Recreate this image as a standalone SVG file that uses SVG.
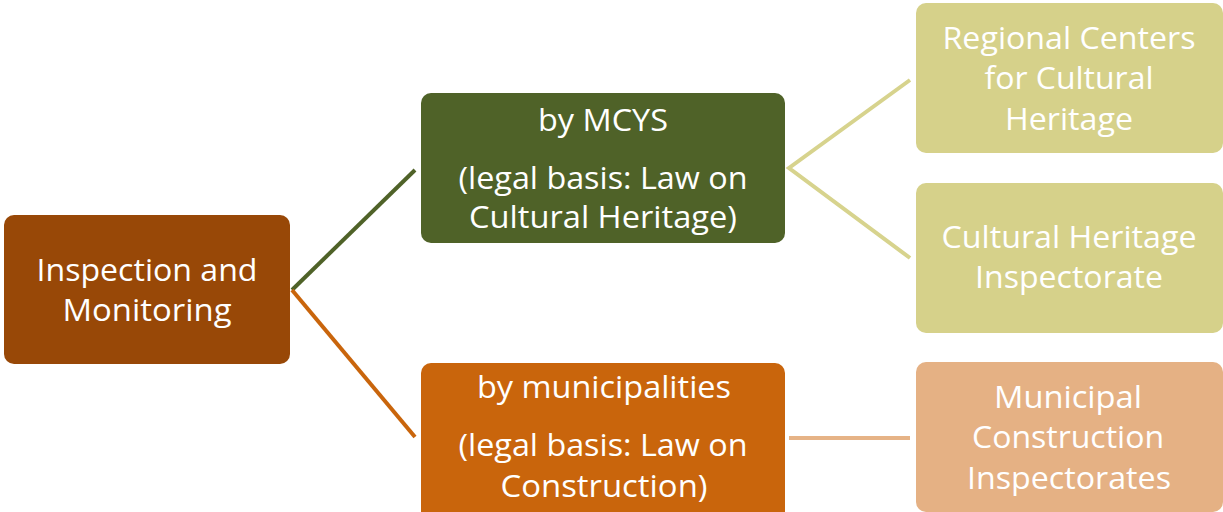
<svg xmlns="http://www.w3.org/2000/svg" width="1223" height="512" viewBox="0 0 1223 512">
<style>
.t{font-family:"Open Sans","Noto Sans","Liberation Sans",sans-serif;font-size:31px;fill:#ffffff;text-anchor:middle}
.c{fill:none;stroke-width:4}
</style>
<rect width="1223" height="512" fill="#ffffff"/>
<g id="connectors">
<line class="c" x1="292" y1="290" x2="415" y2="170" stroke="#4F6228"/>
<line class="c" x1="292" y1="290" x2="415" y2="437" stroke="#C9650C"/>
<polyline class="c" points="910,80 789,168 910,258" stroke="#D7D38D"/>
<line class="c" x1="789" y1="438" x2="910" y2="438" stroke="#E6B386"/>
</g>
<g id="root">
<rect x="4" y="215" width="286" height="149" rx="10" fill="#984807"/>
<text class="t" x="147" y="281" textLength="221" lengthAdjust="spacingAndGlyphs">Inspection and</text>
<text class="t" x="147" y="321" textLength="169" lengthAdjust="spacingAndGlyphs">Monitoring</text>
</g>
<g id="mcys">
<rect x="421" y="93" width="364" height="150" rx="10" fill="#4F6228"/>
<text class="t" x="603" y="131" textLength="130" lengthAdjust="spacingAndGlyphs">by MCYS</text>
<text class="t" x="603" y="189" textLength="289" lengthAdjust="spacingAndGlyphs">(legal basis: Law on</text>
<text class="t" x="603" y="228" textLength="268" lengthAdjust="spacingAndGlyphs">Cultural Heritage)</text>
</g>
<g id="municipalities">
<rect x="421" y="363" width="364" height="160" rx="10" fill="#C9650C"/>
<text class="t" x="604" y="398" textLength="254" lengthAdjust="spacingAndGlyphs">by municipalities</text>
<text class="t" x="603" y="456" textLength="289" lengthAdjust="spacingAndGlyphs">(legal basis: Law on</text>
<text class="t" x="604" y="497" textLength="207" lengthAdjust="spacingAndGlyphs">Construction)</text>
</g>
<g id="regional">
<rect x="916" y="3" width="307" height="150" rx="10" fill="#D6D18A"/>
<text class="t" x="1069" y="49" textLength="253" lengthAdjust="spacingAndGlyphs">Regional Centers</text>
<text class="t" x="1069" y="89" textLength="169" lengthAdjust="spacingAndGlyphs">for Cultural</text>
<text class="t" x="1069" y="130" textLength="128" lengthAdjust="spacingAndGlyphs">Heritage</text>
</g>
<g id="inspectorate">
<rect x="916" y="183" width="307" height="150" rx="10" fill="#D6D18A"/>
<text class="t" x="1069" y="248" textLength="255" lengthAdjust="spacingAndGlyphs">Cultural Heritage</text>
<text class="t" x="1069" y="288" textLength="188" lengthAdjust="spacingAndGlyphs">Inspectorate</text>
</g>
<g id="municipal">
<rect x="916" y="362" width="307" height="150" rx="10" fill="#E5B184"/>
<text class="t" x="1068" y="408" textLength="148" lengthAdjust="spacingAndGlyphs">Municipal</text>
<text class="t" x="1068" y="448" textLength="192" lengthAdjust="spacingAndGlyphs">Construction</text>
<text class="t" x="1069" y="489" textLength="204" lengthAdjust="spacingAndGlyphs">Inspectorates</text>
</g>
</svg>
